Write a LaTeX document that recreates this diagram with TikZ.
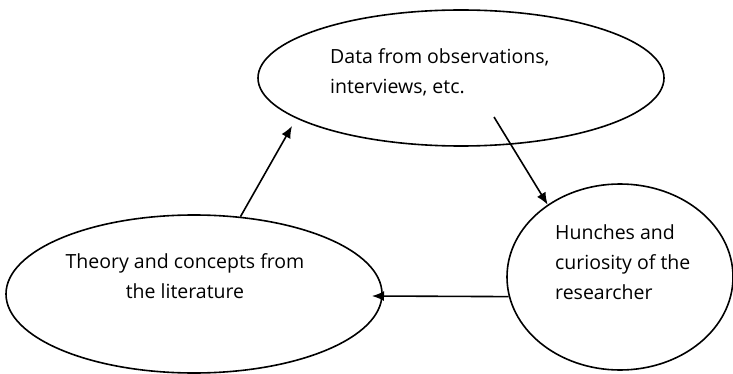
\documentclass[tikz,border=0pt]{standalone}
\usepackage{fontspec}
\setmainfont{Open Sans}
\usetikzlibrary{shapes.geometric,arrows.meta}
\begin{document}
\begin{tikzpicture}[x=1pt,y=-1pt,
    blob/.style={draw,ellipse,line width=1.6pt,inner sep=0pt},
    txt/.style={inner sep=0pt,font=\fontsize{19.5}{30}\selectfont}]
      \useasboundingbox (0,0) rectangle (733,374);
      \draw
        (461,78) node[blob,minimum width=406pt,minimum height=136pt] (data){}
        (194,294) node[blob,minimum width=376pt,minimum height=158pt] (theory){}
        (620,277) node[blob,minimum width=226pt,minimum height=186pt] (hunch){};
      \draw
        (330,72) node[txt,anchor=west,align=left] (datatxt){Data from observations,\\interviews, etc.}
        (185,276) node[txt,align=center] (theorytxt){Theory and concepts from\\the literature}
        (555,262) node[txt,anchor=west,align=left] (hunchtxt){Hunches and\\curiosity of the\\researcher};
      \coordinate (datatip) at (292,126);
      \coordinate (datafoot) at (494,117);
      \coordinate (theorytip) at (372,296);
      \begin{scope}[-{Latex[length=12pt,width=10pt]},line width=1.6pt]
        \draw (theory.59) to (datatip);
        \draw (datafoot) to (hunch.135);
        \draw (hunch.190) to (theorytip);
      \end{scope}
    \end{tikzpicture}
\end{document}
